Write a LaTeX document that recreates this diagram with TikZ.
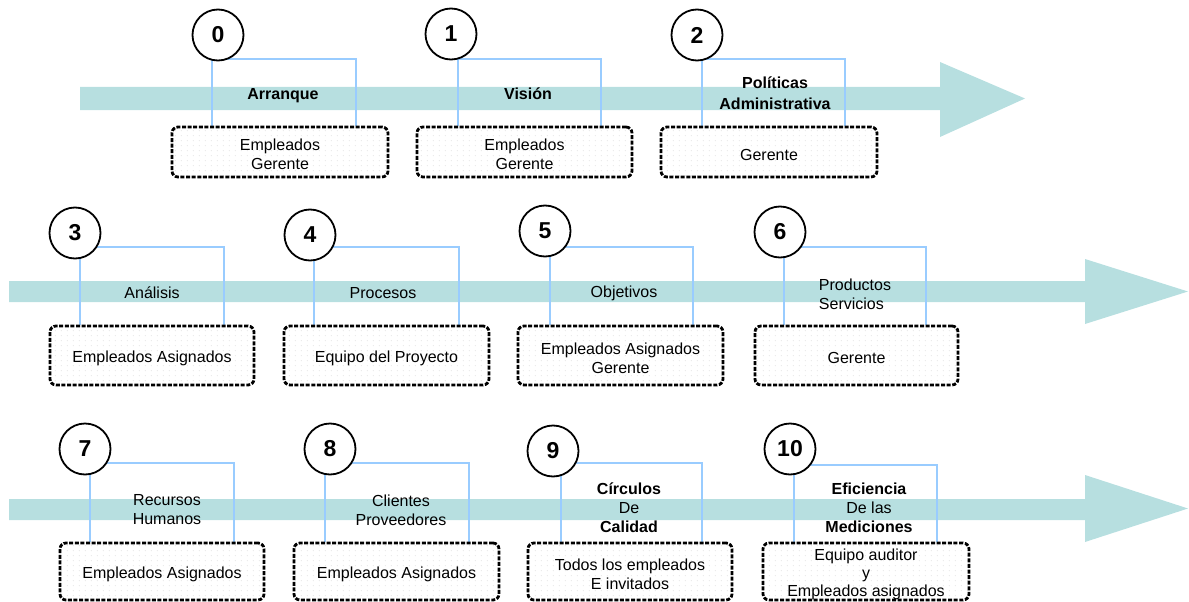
\documentclass[tikz,border=0pt]{standalone}
\usepackage{fontspec}
\setmainfont{Liberation Sans}
\usetikzlibrary{fit,patterns}

\definecolor{bandteal}{RGB}{183,223,224}
\definecolor{bracketblue}{RGB}{153,204,255}

% faint dot texture for the participant boxes
\pgfdeclarepatternformonly{sparsedots}{\pgfqpoint{0pt}{0pt}}{\pgfqpoint{6pt}{5pt}}{\pgfqpoint{6pt}{5pt}}{%
  \pgfpathcircle{\pgfqpoint{1.5pt}{1.5pt}}{0.5pt}\pgfusepath{fill}}

\pgfdeclarelayer{bandlayer}
\pgfdeclarelayer{linklayer}
\pgfsetlayers{bandlayer,linklayer,main}

\tikzset{
  band/.style={fill=bandteal, draw=none},
  bracket/.style={draw=bracketblue, line width=2pt},
  numdisc/.style={circle, draw=black, line width=1.8pt, fill=white, minimum size=51pt,
    inner sep=0pt, font=\fontsize{23}{26}\selectfont\bfseries},
  infobox/.style={draw=black, line width=2.8pt, dash pattern=on 4pt off 1.6pt,
    rounded corners=6pt, preaction={fill=white}, pattern=sparsedots, pattern color=black!22,
    inner sep=0pt},
  boxtext/.style={align=center, inner sep=0pt, font=\fontsize{16}{19}\selectfont},
  phase/.style={align=center, font=\fontsize{16}{19}\selectfont},
  phasebold/.style={phase, font=\fontsize{16}{19}\selectfont\bfseries},
}

% one stage: number disc, participant box and the bracket joining them
% #1 id, #2 disc centre, #3 number, #4/#5 bracket left/right x, #6 bracket top y,
% #7/#8 box corners, #9 box text
\newcommand\phasestep[9]{%
  \node[infobox, fit={#7 #8}] (b#1) {};
  \node[boxtext] (x#1) at ([yshift=-2.5pt]b#1.center) {#9};
  \node[numdisc] (n#1) at #2 {#3};
  \coordinate (k#1) at (#4,#6);
  \coordinate (m#1) at (#5,#6);
  \begin{pgfonlayer}{linklayer}
    \draw[bracket] (b#1.north -| k#1) -- (k#1) -- (m#1) -- (b#1.north -| m#1);
  \end{pgfonlayer}
}

\begin{document}
\begin{tikzpicture}[x=1pt, y=-1pt]
\useasboundingbox (0,0) rectangle (1189,602);

% timeline arrows
\begin{pgfonlayer}{bandlayer}
  \fill[band] (80,87) -- (940,87) -- (940,62) -- (1025,98.5) -- (940,137) -- (940,110) -- (80,110) -- cycle;
  \fill[band] (9,281) -- (1085,281) -- (1085,259) -- (1188,291.5) -- (1085,324) -- (1085,302) -- (9,302) -- cycle;
  \fill[band] (9,499) -- (1085,499) -- (1085,475) -- (1188,508.5) -- (1085,542) -- (1085,520) -- (9,520) -- cycle;
\end{pgfonlayer}

% stages
\phasestep{0}{(218,35)}{0}{212}{356}{59}{(172,127)}{(388,177)}{Empleados\\Gerente}
\phasestep{1}{(451,34)}{1}{458}{601}{59}{(417,127)}{(632,177)}{Empleados\\Gerente}
\phasestep{2}{(697,35)}{2}{702}{845}{59}{(661,127)}{(877,177)}{Gerente}
\phasestep{3}{(75,233)}{3}{80}{224}{247}{(50,326)}{(254,385)}{Empleados Asignados}
\phasestep{4}{(310,235)}{4}{314}{459}{247}{(284,326)}{(489,385)}{Equipo del Proyecto}
\phasestep{5}{(545,231)}{5}{550}{693}{247}{(518,326)}{(723,385)}{Empleados Asignados\\Gerente}
\phasestep{6}{(780,232)}{6}{784}{926}{247}{(755,326)}{(958,385)}{Gerente}
\phasestep{7}{(85,449)}{7}{90}{234}{463}{(60,543)}{(264,600)}{Empleados Asignados}
\phasestep{8}{(330,449)}{8}{325}{469}{463}{(294,543)}{(499,600)}{Empleados Asignados}
\phasestep{9}{(553,451)}{9}{561}{702}{463}{(528,543)}{(732,600)}{Todos los empleados\\E invitados}
\phasestep{10}{(790,449)}{10}{794}{937}{465}{(763,543)}{(969,600)}{Equipo auditor\\[-1pt]y\\[-1pt]Empleados asignados}

% stage titles
\node[phasebold] (t0) at (283,96) {Arranque};
\node[phasebold] (t1) at (528,94) {Visión};
\node[phasebold] (t2) at (775,93) {Políticas\\[2pt]Administrativa};
\node[phase] (t3) at (152,293) {Análisis};
\node[phase] (t4) at (383,293) {Procesos};
\node[phase] (t5) at (624,293) {Objetivos};
\node[phase, align=left] (t6) at (855,294) {Productos\\Servicios};
\node[phase] (t7) at (167,510) {Recursos\\Humanos};
\node[phase] (t8) at (401,510) {Clientes\\Proveedores};
\node[phase] (t9) at (629,508) {{\bfseries Círculos}\\De\\{\bfseries Calidad}};
\node[phase] (t10) at (869,508) {{\bfseries Eficiencia}\\De las\\{\bfseries Mediciones}};
\end{tikzpicture}
\end{document}
